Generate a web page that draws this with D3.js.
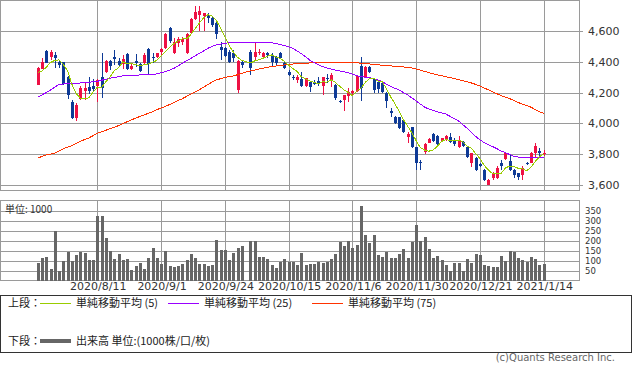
<!DOCTYPE html>
<html>
<head>
<meta charset="utf-8">
<script src="https://cdn.jsdelivr.net/npm/d3@7"></script>
<style>
  body { margin: 0; background: #fff; }
  svg text { font-family: "DejaVu Sans", sans-serif; }
  .jp { font-family: "Noto Sans CJK JP", sans-serif; }
</style>
</head>
<body>
<div id="container"></div>
<script>
/* DATA */
const dates = [
  "2020/7/17","2020/7/20","2020/7/21","2020/7/22","2020/7/27","2020/7/28","2020/7/29","2020/7/30","2020/7/31","2020/8/3",
  "2020/8/4","2020/8/5","2020/8/6","2020/8/7","2020/8/11","2020/8/12","2020/8/13","2020/8/14","2020/8/17","2020/8/18",
  "2020/8/19","2020/8/20","2020/8/21","2020/8/24","2020/8/25","2020/8/26","2020/8/27","2020/8/28","2020/8/31","2020/9/1",
  "2020/9/2","2020/9/3","2020/9/4","2020/9/7","2020/9/8","2020/9/9","2020/9/10","2020/9/11","2020/9/14","2020/9/15",
  "2020/9/16","2020/9/17","2020/9/18","2020/9/23","2020/9/24","2020/9/25","2020/9/28","2020/9/29","2020/9/30","2020/10/1",
  "2020/10/2","2020/10/5","2020/10/6","2020/10/7","2020/10/8","2020/10/9","2020/10/12","2020/10/13","2020/10/14","2020/10/15",
  "2020/10/16","2020/10/19","2020/10/20","2020/10/21","2020/10/22","2020/10/23","2020/10/26","2020/10/27","2020/10/28","2020/10/29",
  "2020/10/30","2020/11/2","2020/11/4","2020/11/5","2020/11/6","2020/11/9","2020/11/10","2020/11/11","2020/11/12","2020/11/13",
  "2020/11/16","2020/11/17","2020/11/18","2020/11/19","2020/11/20","2020/11/24","2020/11/25","2020/11/26","2020/11/27","2020/11/30",
  "2020/12/1","2020/12/2","2020/12/3","2020/12/4","2020/12/7","2020/12/8","2020/12/9","2020/12/10","2020/12/11","2020/12/14",
  "2020/12/15","2020/12/16","2020/12/17","2020/12/18","2020/12/21","2020/12/22","2020/12/23","2020/12/24","2020/12/25","2020/12/28",
  "2020/12/29","2020/12/30","2021/1/4","2021/1/5","2021/1/6","2021/1/7","2021/1/8","2021/1/12","2021/1/13","2021/1/14"
];

// 10/1 : no trading (null)
const open = [
  4251,4353,4470,4429,4444,4401,4396,4303,4141,4033, 4156,4212,4234,4243,4243,4303,4336,4405,4429,4405,
  4386,4451,4353,4405,4383,4390,4481,4429,4433,4461, 4487,4619,4455,4520,4526,4455,4585,4678,4704,4700,
  4704,4682,4654,4498,4487,4466,4455,4217,4401,null, 4461,4429,4455,4433,4455,4444,4429,4455,4390,4336,
  4303,4282,4288,4243,4271,4271,4277,4243,4297,4282, 4249,4145,4152,4178,4195,4210,4373,4297,4368,4286,
  4271,4264,4195,4080,4044,4039,4022,3914,3974,3844, 3749,3816,3875,3929,3918,3888,3892,3914,3885,3844,
  3881,3849,3740,3777,3734,3697,3600,3643,3643,3740, 3766,3758,3697,3676,3665,3745,3745,3810,3823,3799
];
const high = [
  4368,4422,4477,4477,4466,4412,4401,4308,4152,4130, 4243,4260,4299,4286,4290,4455,4412,4412,4477,4422,
  4444,4455,4390,4448,4390,4459,4487,4455,4459,4487, 4585,4624,4552,4559,4559,4587,4682,4762,4762,4719,
  4719,4693,4667,4531,4494,4477,4477,4412,4412,null, 4477,4531,4481,4466,4466,4455,4438,4466,4401,4347,
  4314,4314,4336,4297,4273,4282,4303,4299,4321,4325, 4253,4152,4184,4228,4217,4314,4433,4373,4373,4297,
  4282,4271,4206,4098,4048,4044,4026,3946,3979,3849, 3762,3870,3903,3935,3924,3907,3922,3935,3903,3918,
  3888,3853,3810,3784,3745,3701,3637,3686,3723,3762, 3810,3795,3701,3680,3723,3751,3816,3875,3838,3827
];
const low = [
  4247,4351,4390,4412,4357,4357,4249,4158,4028,4018, 4152,4152,4189,4206,4141,4163,4329,4347,4379,4368,
  4353,4347,4347,4368,4336,4386,4321,4390,4425,4444, 4481,4520,4451,4498,4510,4451,4580,4671,4602,4602,
  4650,4628,4550,4412,4433,4390,4401,4199,4357,null, 4314,4412,4444,4422,4422,4373,4379,4416,4351,4308,
  4282,4260,4238,4238,4202,4249,4243,4184,4260,4238, 4152,4130,4083,4141,4184,4206,4145,4293,4330,4195,
  4195,4199,4098,4039,3996,3964,3940,3870,3838,3697, 3697,3801,3870,3881,3862,3883,3888,3870,3855,3840,
  3849,3773,3714,3693,3714,3628,3598,3632,3637,3697, 3762,3693,3643,3632,3632,3730,3740,3773,3779,3788
];
const close = [
  4362,4399,4394,4461,4427,4379,4254,4184,4033,4119, 4232,4228,4212,4221,4282,4228,4405,4375,4418,4379,
  4416,4351,4373,4390,4340,4444,4383,4422,4455,4481, 4580,4537,4531,4546,4548,4583,4678,4721,4730,4715,
  4682,4639,4578,4477,4438,4396,4422,4405,4379,null, 4357,4461,4461,4455,4444,4401,4390,4422,4357,4314,
  4293,4299,4245,4293,4238,4256,4260,4299,4288,4314, 4167,4137,4182,4206,4210,4308,4232,4368,4336,4217,
  4223,4206,4148,4065,4000,3968,3946,3931,3844,3745, 3745,3866,3896,3885,3866,3903,3918,3877,3866,3885,
  3853,3779,3805,3697,3721,3632,3632,3676,3712,3723, 3805,3697,3665,3650,3712,3736,3810,3853,3805,3805
];
const volume = [
  90,115,120,60,248,47,100,145,100,130, 145,140,105,105,325,325,215,150,110,135,
  105,110,55,75,90,60,115,165,115,85, 150,75,70,75,85,105,135,115,85,85,
  75,80,205,155,155,105,140,165,175,null, 200,197,120,120,110,80,65,95,107,95,
  92,77,137,77,82,82,92,87,92,107, 132,192,172,197,162,177,372,227,187,227,
  127,117,142,112,112,132,157,112,192,277, 200,217,157,112,122,102,77,47,87,87,
  47,107,87,132,127,77,72,67,67,122, 97,147,142,112,102,92,117,107,77,82
];
const ma5 = [
  4330,4340,4365,4395,4409,4412,4383,4341,4255,4194, 4164,4159,4165,4202,4235,4234,4270,4302,4342,4361,
  4399,4388,4387,4382,4374,4380,4386,4396,4409,4437, 4464,4495,4517,4535,4548,4549,4577,4615,4652,4685,
  4705,4697,4669,4618,4563,4506,4462,4428,4408,4400, 4392,4405,4413,4423,4436,4444,4430,4422,4403,4377,
  4355,4337,4302,4289,4274,4266,4258,4269,4268,4283, 4266,4241,4218,4201,4180,4209,4228,4265,4291,4292,
  4275,4270,4226,4172,4128,4077,4025,3982,3938,3887, 3842,3826,3819,3827,3852,3883,3894,3890,3886,3890,
  3880,3852,3838,3804,3771,3727,3697,3672,3675,3675, 3710,3723,3720,3708,3706,3692,3715,3752,3783,3802
];
const ma25 = [
  4170,4185,4200,4217,4235,4252,4256,4258,4260,4261, 4262,4264,4266,4270,4273,4280,4286,4293,4298,4303,
  4308,4310,4312,4313,4314,4315,4316,4318,4321,4328, 4336,4346,4357,4373,4390,4406,4422,4438,4455,4470,
  4487,4500,4509,4515,4520,4524,4526,4527,4527,4527, 4527,4527,4526,4526,4525,4523,4518,4512,4505,4497,
  4487,4470,4452,4432,4410,4395,4380,4368,4360,4352, 4346,4340,4336,4328,4320,4310,4303,4300,4297,4290,
  4282,4270,4255,4240,4228,4217,4200,4184,4165,4145, 4125,4105,4093,4083,4075,4068,4060,4045,4030,4015,
  3990,3968,3940,3915,3893,3875,3860,3849,3835,3820, 3810,3797,3786,3781,3779,3779,3779,3779,3779,3780
];
const ma75 = [
  3775,3785,3795,3800,3806,3820,3835,3845,3855,3870, 3882,3895,3905,3920,3935,3945,3955,3965,3975,3985,
  3998,4010,4023,4033,4045,4055,4065,4075,4088,4100, 4110,4122,4135,4148,4160,4175,4190,4203,4218,4235,
  4252,4268,4282,4290,4298,4303,4308,4316,4325,4333, 4340,4346,4352,4358,4364,4368,4372,4376,4379,4382,
  4385,4388,4390,4391,4392,4393,4394,4394,4394,4394, 4394,4394,4394,4394,4394,4393,4391,4389,4386,4383,
  4380,4377,4375,4373,4370,4368,4366,4363,4360,4352, 4345,4337,4329,4321,4315,4309,4303,4297,4291,4284,
  4277,4270,4262,4253,4243,4230,4217,4204,4192,4180, 4170,4160,4148,4135,4125,4116,4105,4090,4076,4065
];

const priceTicks = [3600, 3800, 4000, 4200, 4400, 4600];
const volumeTicks = [50, 100, 150, 200, 250, 300, 350];
const dateTicks = ["2020/8/11","2020/9/1","2020/9/24","2020/10/15","2020/11/6","2020/11/30","2020/12/21","2021/1/14"];

/* CONSTANTS */
const width = 633, height = 373;
const frameRight = 579;
const price = { top: 0, bottom: 190 };
const vol = { top: 200, bottom: 280 };
const upColor = "#ee1144", downColor = "#0e3a96", gridColor = "#9a9a9a";

const rows = dates.map((d, i) => ({
  date: d, o: open[i], h: high[i], l: low[i], c: close[i], v: volume[i],
  m5: ma5[i], m25: ma25[i], m75: ma75[i]
}));

/* SCALES */
const xScale = d3.scalePoint().domain(dates).range([37.8, 543.7]);
const yScale = d3.scaleLinear().domain([3567, 4801]).range([price.bottom, price.top]);
const vScale = d3.scaleLinear().domain([0, 400]).range([vol.bottom + 0.5, vol.top + 0.5]);
const px = d => Math.round(xScale(d));

/* SVG */
const svg = d3.select("#container").append("svg")
  .attr("width", width).attr("height", height);

// grid
const grid = svg.append("g").attr("shape-rendering", "crispEdges")
  .attr("stroke", gridColor).attr("stroke-width", 1);

grid.selectAll("line.py").data(priceTicks).join("line")
  .attr("x1", 0).attr("x2", frameRight + 4)
  .attr("y1", d => Math.round(yScale(d)) + 0.5).attr("y2", d => Math.round(yScale(d)) + 0.5);

grid.selectAll("line.vy").data(volumeTicks).join("line")
  .attr("x1", 0).attr("x2", frameRight)
  .attr("y1", d => Math.round(vScale(d)) + 0.5).attr("y2", d => Math.round(vScale(d)) + 0.5);

grid.selectAll("line.px").data(dateTicks).join("line")
  .attr("x1", d => px(d) + 0.5).attr("x2", d => px(d) + 0.5)
  .attr("y1", price.top).attr("y2", price.bottom);

grid.selectAll("line.vx").data(dateTicks).join("line")
  .attr("x1", d => px(d) + 0.5).attr("x2", d => px(d) + 0.5)
  .attr("y1", vol.top).attr("y2", vol.bottom);

grid.append("rect").attr("x", 0.5).attr("y", price.top + 0.5)
  .attr("width", frameRight).attr("height", price.bottom - price.top).attr("fill", "none");
grid.append("rect").attr("x", 0.5).attr("y", vol.top + 0.5)
  .attr("width", frameRight).attr("height", vol.bottom - vol.top).attr("fill", "none");

// volume bars
svg.append("g").attr("shape-rendering", "crispEdges")
  .selectAll("rect").data(rows.filter(d => d.v != null)).join("rect")
  .attr("x", d => px(d.date) - 1)
  .attr("width", 3)
  .attr("y", d => vScale(d.v))
  .attr("height", d => vScale(0) - vScale(d.v))
  .attr("fill", "#666");

// candles
const candles = svg.append("g").attr("shape-rendering", "crispEdges")
  .selectAll("g").data(rows.filter(d => d.o != null)).join("g");

candles.append("line")
  .attr("x1", d => px(d.date) + 0.5).attr("x2", d => px(d.date) + 0.5)
  .attr("y1", d => yScale(d.h)).attr("y2", d => yScale(d.l))
  .attr("stroke", d => d.c >= d.o ? upColor : downColor);

candles.append("rect")
  .attr("x", d => px(d.date) - 1)
  .attr("width", 3)
  .attr("y", d => yScale(Math.max(d.o, d.c)))
  .attr("height", d => Math.max(1, Math.abs(yScale(d.o) - yScale(d.c))))
  .attr("fill", d => d.c >= d.o ? upColor : downColor);

// moving averages
const maLines = [
  { key: "m75", color: "#ff3300" },
  { key: "m25", color: "#9900ff" },
  { key: "m5", color: "#99cc00" }
];
maLines.forEach(m => {
  const line = d3.line().x(d => xScale(d.date)).y(d => yScale(d[m.key]));
  svg.append("path").datum(rows)
    .attr("d", line)
    .attr("fill", "none")
    .attr("stroke", m.color)
    .attr("stroke-width", 1)
    .attr("shape-rendering", "crispEdges");
});

// axis labels
svg.append("g").selectAll("text").data(priceTicks).join("text")
  .attr("x", 588).attr("y", d => yScale(d) + 4)
  .attr("font-size", 11).attr("fill", "#333")
  .text(d => d3.format(",")(d));

svg.append("g").selectAll("text").data(volumeTicks).join("text")
  .attr("x", 585).attr("y", d => vScale(d) + 3)
  .attr("font-size", 8.5).attr("fill", "#333")
  .text(d => d);

svg.append("g").selectAll("text").data(dateTicks).join("text")
  .attr("x", d => xScale(d) + 1).attr("y", 290)
  .attr("text-anchor", "middle")
  .attr("font-size", 11).attr("fill", "#333")
  .text(d => d);

svg.append("text").attr("class", "jp")
  .attr("x", 5).attr("y", 213).attr("font-size", 10).attr("fill", "#333")
  .text("単位: 1000");

// legend
const legend = svg.append("g");
legend.append("rect").attr("x", 0.5).attr("y", 295.5).attr("width", 631).attr("height", 57)
  .attr("fill", "none").attr("stroke", "#333").attr("shape-rendering", "crispEdges");

const legendItems = [
  { x: 40, label: "単純移動平均 (5)", color: "#99cc00" },
  { x: 168, label: "単純移動平均 (25)", color: "#9900ff" },
  { x: 312, label: "単純移動平均 (75)", color: "#ff3300" }
];
legend.append("text").attr("class", "jp").attr("x", 8).attr("y", 307)
  .attr("font-size", 11).attr("fill", "#222").text("上段：");
legendItems.forEach(it => {
  legend.append("line").attr("x1", it.x).attr("x2", it.x + 31)
    .attr("y1", 303.5).attr("y2", 303.5)
    .attr("stroke", it.color).attr("shape-rendering", "crispEdges");
  legend.append("text").attr("class", "jp").attr("x", it.x + 36).attr("y", 307)
    .attr("font-size", 11).attr("fill", "#222").text(it.label);
});
legend.append("text").attr("class", "jp").attr("x", 8).attr("y", 345)
  .attr("font-size", 11).attr("fill", "#222").text("下段：");
legend.append("line").attr("x1", 40).attr("x2", 71).attr("y1", 341).attr("y2", 341)
  .attr("stroke", "#666").attr("stroke-width", 4);
legend.append("text").attr("class", "jp").attr("x", 76).attr("y", 345)
  .attr("font-size", 11).attr("fill", "#222").text("出来高 単位:(1000株/口/枚)");

svg.append("text").attr("x", 615).attr("y", 361)
  .attr("text-anchor", "end").attr("font-size", 10).attr("fill", "#666")
  .attr("font-family", "Liberation Sans, sans-serif")
  .text("(c)Quants Research Inc.");
</script>
</body>
</html>
